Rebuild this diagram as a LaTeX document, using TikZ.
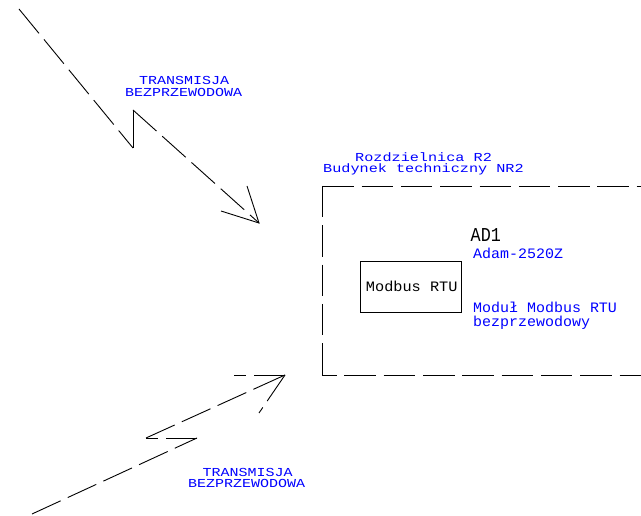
\documentclass[tikz,border=0pt]{standalone}
\usepackage{fontspec}
\newfontfamily\smallcad[FakeStretch=1.23]{Liberation Mono}
\newfontfamily\roomcad[FakeStretch=1.245]{Liberation Mono}
\newfontfamily\medcad[FakeStretch=1.04]{Liberation Mono}
\newfontfamily\boxcad[FakeStretch=1.06]{Liberation Mono}
\newfontfamily\bigcad[FakeStretch=0.85]{Liberation Mono}
\definecolor{cadblue}{RGB}{0,0,255}
\tikzset{
  cadline/.style={line width=0.9pt,black,line cap=butt,line join=miter},
  daxhed/.style={cadline,dash pattern=on 31.5pt off 7.8pt},
  smalllabel/.style={anchor=base west,inner sep=0pt,text=cadblue,font=\smallcad\fontsize{12.2}{12.2}\selectfont},
  roomlabel/.style={anchor=base west,inner sep=0pt,text=cadblue,font=\roomcad\fontsize{12.2}{12.2}\selectfont},
  medlabel/.style={anchor=base west,inner sep=0pt,text=cadblue,font=\medcad\fontsize{14.4}{14.4}\selectfont},
  bigtag/.style={anchor=base west,inner sep=0pt,text=black,font=\bigcad\fontsize{19.7}{19.7}\selectfont},
  boxlabel/.style={draw,cadline,minimum width=101.4pt,minimum height=51pt,inner sep=0pt,text=black,font=\boxcad\fontsize{14.4}{14.4}\selectfont}
}
\begin{document}
\begin{tikzpicture}[x=1pt,y=-1pt]
\useasboundingbox (0,0) rectangle (641,516);
% upper lightning arrow
\coordinate (a0) at (19,9);
\coordinate (a1) at (133,148);
\coordinate (a2) at (133,110);
\coordinate (a3) at (259,223);
\coordinate (ah1) at (247,186);
\coordinate (ah2) at (221,211);
\draw[daxhed] (a0) -- (a1);
\draw[cadline] (a1) -- (a2);
\draw[daxhed] (a2) -- (a3);
\draw[cadline] (ah1) -- (a3) -- (ah2);
% lower lightning arrow
\coordinate (b0) at (32,514);
\coordinate (b1) at (197,438);
\coordinate (b2) at (146,438);
\coordinate (b3) at (285,375);
\coordinate (bh1) at (234,375);
\coordinate (bh2) at (259,413);
\draw[daxhed] (b0) -- (b1);
\draw[daxhed] (b1) -- (b2);
\draw[cadline,dash pattern=on 31.5pt off 7.8pt on 31.5pt off 7.8pt on 31.5pt off 7.8pt on 40pt off 8pt] (b2) -- (b3);
\draw[daxhed] (b3) -- (bh1);
\draw[daxhed] (b3) -- (bh2);
% dashed enclosure
\coordinate (tl) at (322.3,186);
\coordinate (bl) at (322.3,375);
\coordinate (tr) at (641,186);
\coordinate (br) at (641,375);
\draw[daxhed] (tl) -- (tr);
\draw[daxhed] (tl) -- (bl);
\draw[cadline,dash pattern=on 31.5pt off 7.8pt,dash phase=17.2pt] (bl) -- (br);
% module box
\node[boxlabel] (rtu) at (411,286.8) {\hspace*{1.5pt}Modbus RTU};
% labels
\node[smalllabel] (t1a) at (139,85) {TRANSMISJA};
\node[smalllabel] (t1b) at (125,96.7) {BEZPRZEWODOWA};
\node[smalllabel] (t2a) at (202.5,476.7) {TRANSMISJA};
\node[smalllabel] (t2b) at (188,487.8) {BEZPRZEWODOWA};
\node[roomlabel] (r1) at (355,161.7) {Rozdzielnica R2};
\node[roomlabel] (r2) at (323,172.9) {Budynek techniczny NR2};
\node[bigtag] (ad) at (470.5,241.7) {AD1};
\node[medlabel] (ad2) at (473,259) {Adam-2520Z};
\node[medlabel] (m1) at (473,312.7) {Moduł Modbus RTU};
\node[medlabel] (m2) at (473,326.7) {bezprzewodowy};
\end{tikzpicture}
\end{document}
